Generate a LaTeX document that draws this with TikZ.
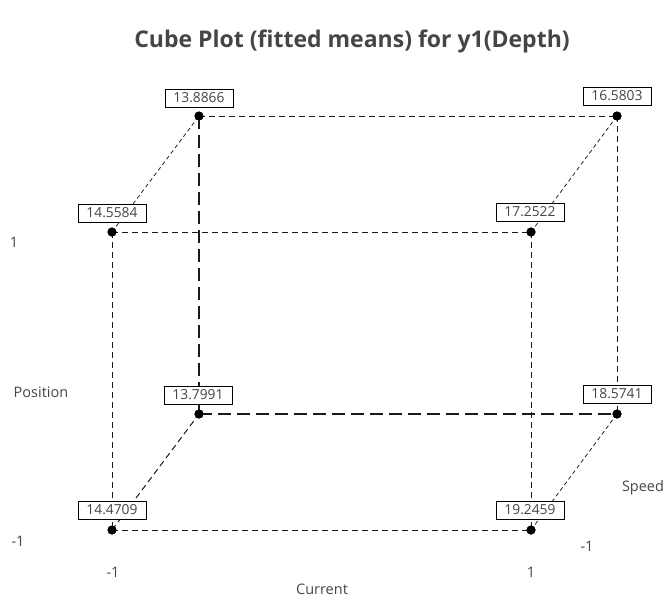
\documentclass[tikz,border=0pt]{standalone}
\usepackage{fontspec}
\setmainfont{Open Sans}
\definecolor{txt}{HTML}{454545}
\definecolor{ln}{HTML}{1A1A1A}
\tikzset{
  val/.style={draw=black, fill=white, line width=0.9pt, inner sep=1.5pt, minimum width=68pt, minimum height=18pt, font=\fontsize{13.8}{15}\selectfont, text=txt},
  pt/.style={circle, fill=black, inner sep=0pt, minimum size=9pt},
  shortd/.style={draw=ln, line width=1pt, dash pattern=on 6pt off 4pt},
  longd/.style={draw=ln, line width=1.2pt, dash pattern=on 13pt off 6pt},
  fined/.style={draw=ln, line width=0.75pt, dash pattern=on 4pt off 3pt},
  axl/.style={text=txt, font=\fontsize{14.5}{16}\selectfont},
}
\begin{document}
\begin{tikzpicture}[x=1pt,y=-1pt]
\useasboundingbox (0,0) rectangle (667,600);
\node[text=txt, font=\fontsize{23}{27}\selectfont\bfseries] (title) at (352,41) {Cube Plot (fitted means) for y1(Depth)};
% points
\node[pt] (fbl) at (112,530) {};
\node[pt] (fbr) at (531,530) {};
\node[pt] (ftl) at (112,232) {};
\node[pt] (ftr) at (531,232) {};
\node[pt] (btl) at (199,116) {};
\node[pt] (btr) at (617,116) {};
\node[pt] (bbl) at (199,414) {};
\node[pt] (bbr) at (617,414) {};
% edges
\draw[shortd] (ftl.center) -- (ftr.center);
\draw[shortd] (fbl.center) -- (fbr.center);
\draw[shortd] (ftl.center) -- (fbl.center);
\draw[shortd] (ftr.center) -- (fbr.center);
\draw[shortd] (btl.center) -- (btr.center);
\draw[shortd] (btr.center) -- (bbr.center);
\draw[longd] (btl.center) -- (bbl.center);
\draw[longd] (bbl.center) -- (bbr.center);
\draw[fined] (ftl.center) -- (btl.center);
\draw[fined] (ftr.center) -- (btr.center);
\draw[fined] (fbr.center) -- (bbr.center);
\draw[shortd] (fbl.center) -- (bbl.center);
% redraw points on top
\foreach \p in {fbl,fbr,ftl,ftr,btl,btr,bbl,bbr} \fill (\p) circle (4.5pt);
% value boxes
\node[val] (v1) at (199,98) {13.8866};
\node[val] (v2) at (617,96) {16.5803};
\node[val] (v3) at (112,213) {14.5584};
\node[val] (v4) at (530,212) {17.2522};
\node[val] (v5) at (198,395) {13.7991};
\node[val] (v6) at (617,394) {18.5741};
\node[val] (v7) at (112,510) {14.4709};
\node[val] (v8) at (530,510) {19.2459};
% axis labels
\node[axl] (p1) at (14,242) {1};
\node[axl] (pos) at (41,392) {Position};
\node[axl] (pm1) at (18,541) {-1};
\node[axl] (cm1) at (113,572) {-1};
\node[axl] (cur) at (322,589) {Current};
\node[axl] (c1) at (531,572) {1};
\node[axl] (spd) at (643,488) {Speed};
\node[axl] (sm1) at (587,546) {-1};
\end{tikzpicture}
\end{document}
